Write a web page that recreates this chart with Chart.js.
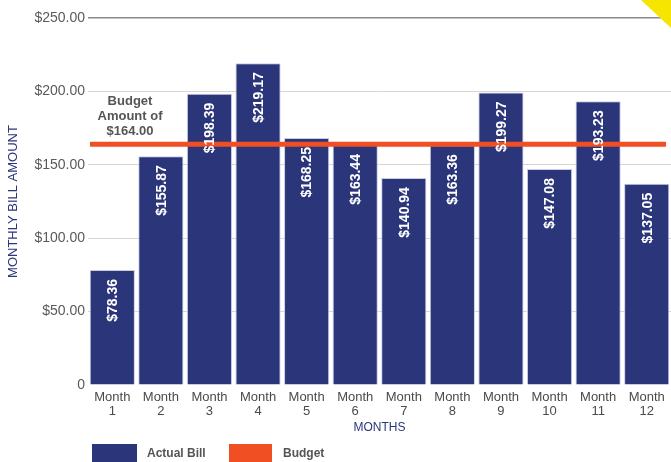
<!DOCTYPE html>
<html>
<head>
<meta charset="utf-8">
<script src="https://cdn.jsdelivr.net/npm/chart.js@4/dist/chart.umd.min.js"></script>
<style>
  body { margin: 0; background: #fff; }
  #wrap { width: 671px; height: 462px; }
</style>
</head>
<body>
<div id="wrap"><canvas id="billChart"></canvas></div>
<script>
const months = [["Month","1"],["Month","2"],["Month","3"],["Month","4"],["Month","5"],["Month","6"],
                ["Month","7"],["Month","8"],["Month","9"],["Month","10"],["Month","11"],["Month","12"]];
const actualBill = [78.36, 155.87, 198.39, 219.17, 168.25, 163.44, 140.94, 163.36, 199.27, 147.08, 193.23, 137.05];
const budget = 164.00;
const yTicks = [0, 50, 100, 150, 200, 250];

const NAVY = "#2b357a";
const ORANGE = "#f04e23";
const GREY = "#555";
const FONT = "'Liberation Sans', Arial, sans-serif";

// budget line, value labels, note, legend and corner
const extras = {
  id: "extras",
  afterDatasetsDraw(chart) {
    const ctx = chart.ctx;
    const area = chart.chartArea;
    const y = chart.scales.y.getPixelForValue(budget);

    ctx.save();
    ctx.fillStyle = ORANGE;
    ctx.fillRect(area.left + 2, y - 2.5, area.right - area.left - 7, 5);

    // labels on bars
    ctx.fillStyle = "#fff";
    ctx.font = "bold 14px " + FONT;
    ctx.textAlign = "right";
    ctx.textBaseline = "middle";
    chart.getDatasetMeta(0).data.forEach((bar, i) => {
      ctx.save();
      ctx.translate(bar.x + 1, bar.y + 9);
      ctx.rotate(-Math.PI / 2);
      ctx.fillText("$" + actualBill[i].toFixed(2), 0, 0);
      ctx.restore();
    });

    // budget note
    ctx.fillStyle = GREY;
    ctx.font = "bold 13px " + FONT;
    ctx.textAlign = "center";
    const nx = area.left + 42;
    ctx.fillText("Budget", nx, y - 43);
    ctx.fillText("Amount of", nx, y - 28);
    ctx.fillText("$" + budget.toFixed(2), nx, y - 13);

    // legend
    ctx.fillStyle = NAVY;
    ctx.fillRect(92, 444, 45, 20);
    ctx.fillStyle = ORANGE;
    ctx.fillRect(229, 444, 43, 20);
    ctx.fillStyle = GREY;
    ctx.font = "bold 12px " + FONT;
    ctx.textAlign = "left";
    ctx.fillText("Actual Bill", 147, 454);
    ctx.fillText("Budget", 283, 454);

    // yellow corner
    ctx.fillStyle = "#f6e500";
    ctx.beginPath();
    ctx.moveTo(641, 0);
    ctx.lineTo(671, 0);
    ctx.lineTo(671, 28);
    ctx.closePath();
    ctx.fill();
    ctx.restore();
  }
};

new Chart(document.getElementById("billChart"), {
  type: "bar",
  data: {
    labels: months,
    datasets: [{
      label: "Actual Bill",
      data: actualBill,
      backgroundColor: NAVY,
      borderColor: "#c9cde3",
      borderWidth: 1,
      barPercentage: 0.93,
      categoryPercentage: 1
    }]
  },
  options: {
    responsive: true,
    maintainAspectRatio: false,
    animation: false,
    layout: { padding: { top: 18, right: 0, left: 0, bottom: 0 } },
    plugins: {
      legend: { display: false },
      tooltip: { enabled: false }
    },
    scales: {
      x: {
        grid: { display: false, drawTicks: false },
        border: { display: false },
        ticks: {
          color: "#4a4a4a",
          font: { family: FONT, size: 13, lineHeight: 1.1 },
          padding: 5,
          maxRotation: 0,
          autoSkip: false
        },
        title: {
          display: true,
          text: "MONTHS",
          color: NAVY,
          font: { family: FONT, size: 12 },
          padding: { top: 0, bottom: 27 }
        },
        afterFit(s) { s.height = 77; }
      },
      y: {
        min: 0,
        max: 250,
        afterBuildTicks(s) { s.ticks = yTicks.map(v => ({ value: v })); },
        grid: {
          drawTicks: false,
          color: c => c.tick.value === 250 ? "#8a8a8a" : (c.tick.value === 0 ? "rgba(0,0,0,0)" : "#d6d6d6"),
          lineWidth: c => c.tick.value === 250 ? 1.5 : 1
        },
        border: { display: false },
        ticks: {
          color: "#5a5a5a",
          font: { family: FONT, size: 14 },
          padding: 3,
          callback: v => v === 0 ? "0" : "$" + v.toFixed(2)
        },
        title: {
          display: true,
          text: "MONTHLY BILL AMOUNT",
          color: NAVY,
          font: { family: FONT, size: 13 },
          padding: { top: 6, bottom: 0 }
        },
        afterFit(s) { s.width = 88; }
      }
    }
  },
  plugins: [extras]
});
</script>
</body>
</html>
